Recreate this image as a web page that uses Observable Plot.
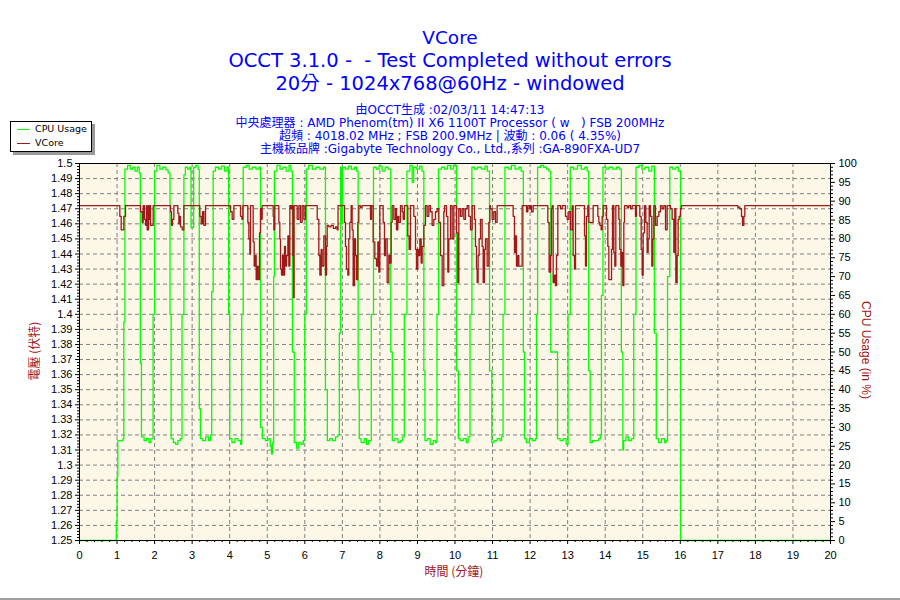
<!DOCTYPE html>
<html><head><meta charset="utf-8">
<script src="https://cdn.jsdelivr.net/npm/d3@7"></script>
<script src="https://cdn.jsdelivr.net/npm/@observablehq/plot@0.6"></script>
<style>
html,body{margin:0;padding:0;background:#fff;}
#wrap{position:relative;width:900px;height:600px;overflow:hidden;background:#fff;font-family:"DejaVu Sans","Noto Sans CJK TC",sans-serif;}
#wrap svg{position:absolute;left:0;top:0;}
.t{position:absolute;left:0;width:900px;text-align:center;color:#0000ff;white-space:pre;line-height:1;}
.ax{position:absolute;color:#a31414;white-space:pre;line-height:1;font-size:12px;}
#legend{position:absolute;left:10px;top:121px;width:80px;height:29px;border:1px solid #000;background:#fff;box-shadow:3px 3px 0 #9a9a9a;font-size:9.5px;}
#legend .row{position:absolute;left:0;height:12px;line-height:12px;}
#legend .sw{position:absolute;left:6px;width:13px;top:6px;height:0;border-top:1.3px solid;}
#legend .lb{position:absolute;left:24px;top:0;white-space:pre;}
#bottomline{position:absolute;left:0;top:598px;width:900px;height:2px;background:#a0a0a0;}
</style>
</head><body>
<div id="wrap"></div>
<script>
// ---------- data ----------
const timeTicks = [0,1,2,3,4,5,6,7,8,9,10,11,12,13,14,15,16,17,18,19,20];
const voltTicks = [1.25,1.26,1.27,1.28,1.29,1.3,1.31,1.32,1.33,1.34,1.35,1.36,1.37,1.38,1.39,1.4,1.41,1.42,1.43,1.44,1.45,1.46,1.47,1.48,1.49,1.5];
const cpuTicks = [0,5,10,15,20,25,30,35,40,45,50,55,60,65,70,75,80,85,90,95,100];

// CPU usage (%) change points [minute, %]
const cpuUsage = [
[0,0],[0.97,0],[0.98,5],[1.0,17],[1.02,26.5],[1.16,27],[1.18,58],[1.21,98.5],
[1.28,99.5],[1.35,98.5],[1.42,99],[1.48,98],[1.54,99],[1.59,97.5],
[1.62,47],[1.65,27.5],[1.72,26.5],[1.78,27],[1.85,26],[1.9,27],
[1.96,60],[2.0,98],[2.06,99.5],[2.14,98.5],[2.22,99],[2.3,98.3],[2.36,97.5],
[2.41,60],[2.44,27],[2.5,26],[2.56,25.5],[2.62,26.5],[2.68,27],
[2.73,60],[2.78,97],[2.82,99],[2.88,98.5],[2.94,99],[2.97,83],[3.04,99],[3.1,99.5],[3.16,98.5],
[3.19,35],[3.22,27],[3.28,26.5],[3.36,27.5],[3.44,26.5],[3.49,28],
[3.52,66],[3.56,98],[3.62,99],[3.7,98.5],[3.78,99.3],[3.86,98],[3.93,99],
[3.97,60],[4.0,27],[4.06,26],[4.14,27],[4.22,26.5],[4.29,25.5],
[4.32,60],[4.36,99],[4.44,99.5],[4.52,98.5],[4.6,99],[4.7,98.5],[4.78,99],
[4.82,30],[4.87,27],[4.95,26.5],[5.02,27],[5.08,25],[5.11,23],[5.14,26],
[5.17,70],[5.19,98],[5.26,99.5],[5.34,98.5],[5.42,99],[5.5,98],[5.58,99.5],[5.63,98],
[5.67,50],[5.72,26],[5.78,24.5],[5.84,26],[5.9,25.5],[5.96,26.5],
[6.0,60],[6.04,98.5],[6.1,99.5],[6.2,98.5],[6.3,99],[6.4,98.5],[6.5,99],
[6.55,40],[6.6,26.5],[6.66,27],[6.74,26.5],[6.82,27.5],[6.88,28],
[6.92,55],[6.95,99],[6.98,84],[7.0,99],[7.08,98.5],[7.16,99.3],[7.24,98.5],[7.32,99],[7.38,98],
[7.42,40],[7.45,27],[7.5,26],[7.58,27],[7.64,25.5],[7.7,26.5],
[7.77,60],[7.83,99],[7.9,98.5],[7.98,99.3],[8.06,98],[8.14,99],[8.22,98.5],
[8.29,50],[8.33,26.5],[8.4,27],[8.48,26],[8.55,26.5],[8.6,27.5],
[8.65,60],[8.72,98],[8.8,99.5],[8.86,95],[8.9,99],[8.98,98.5],[9.06,99.3],[9.12,98],
[9.17,45],[9.2,26.5],[9.26,27],[9.34,25.5],[9.42,26.5],[9.48,26],
[9.52,60],[9.56,98.5],[9.64,99],[9.72,98.5],[9.8,99.5],[9.88,98.5],[9.96,99.5],
[10.04,45],[10.09,27],[10.14,26.5],[10.22,27],[10.3,26],[10.35,27.5],
[10.4,60],[10.45,99],[10.52,98.5],[10.6,99],[10.7,98.5],[10.8,99.3],[10.86,98],
[10.92,45],[10.98,26],[11.04,26.5],[11.12,27],[11.2,26.5],[11.24,27.5],
[11.28,60],[11.33,99],[11.42,98.5],[11.5,99.5],[11.6,98.5],[11.7,99],[11.76,98],
[11.82,50],[11.85,27],[11.9,26],[11.98,27],[12.06,26.5],[12.14,27],
[12.17,60],[12.2,99],[12.28,99.5],[12.36,99],[12.44,98.5],[12.5,98],
[12.55,50],[12.73,27],[12.8,26.5],[12.88,27],[12.96,25.5],
[13.01,60],[13.07,99],[13.16,98.5],[13.26,99.5],[13.36,98.5],[13.46,99],[13.52,98],
[13.56,45],[13.6,26],[13.66,26.5],[13.74,26.5],[13.82,27],[13.87,28],
[13.9,65],[13.94,99],[14.02,98.5],[14.1,99],[14.2,98.5],[14.3,99],[14.38,98.5],
[14.43,50],[14.47,24],[14.49,26.5],[14.55,27.5],[14.62,26.5],[14.7,27],
[14.76,60],[14.82,99],[14.9,99.5],[14.98,98.5],[15.06,99],[15.16,98],[15.24,99.3],
[15.31,55],[15.36,27],[15.42,26],[15.5,27],[15.58,26],[15.62,26.5],
[15.66,70],[15.72,99],[15.8,98.5],[15.88,99],[15.95,98],
[16.01,0],[20,0]
];

// VCore (V) change points [minute, volts]
const vcore = [
[0,1.472],
[1.074,1.465],[1.110,1.456],[1.181,1.465],[1.225,1.472],
[1.625,1.468],[1.669,1.461],[1.696,1.472],[1.731,1.463],[1.760,1.459],[1.785,1.472],[1.802,1.456],[1.838,1.472],[1.856,1.463],[1.873,1.472],[1.891,1.459],[1.962,1.472],
[2.424,1.468],[2.450,1.459],[2.477,1.463],[2.513,1.472],[2.619,1.467],[2.646,1.460],[2.672,1.465],[2.690,1.458],[2.735,1.456],[2.779,1.472],
[3.205,1.465],[3.240,1.460],[3.276,1.468],[3.311,1.459],[3.356,1.472],
[4.022,1.468],[4.066,1.463],[4.111,1.472],[4.288,1.465],[4.324,1.463],[4.350,1.472],
[4.483,1.461],[4.510,1.450],[4.537,1.440],[4.554,1.472],[4.625,1.448],[4.652,1.432],[4.687,1.439],[4.705,1.423],[4.732,1.432],[4.758,1.423],[4.794,1.454],[4.821,1.470],[4.847,1.463],[4.865,1.472],
[5.158,1.465],[5.176,1.456],[5.202,1.472],[5.309,1.461],[5.335,1.450],[5.353,1.430],[5.380,1.426],[5.406,1.439],[5.433,1.426],[5.460,1.445],[5.486,1.432],[5.513,1.439],[5.549,1.452],[5.575,1.432],[5.602,1.472],[5.637,1.470],[5.664,1.472],[5.682,1.439],[5.700,1.411],[5.716,1.472],
[5.797,1.463],[5.842,1.472],[5.886,1.461],[5.930,1.472],[5.975,1.463],[6.019,1.472],
[6.330,1.463],[6.374,1.439],[6.401,1.426],[6.436,1.443],[6.463,1.432],[6.507,1.452],[6.552,1.426],[6.578,1.445],[6.596,1.459],[6.640,1.458],[6.700,1.459],[6.760,1.457],[6.820,1.458],[6.860,1.456],[6.885,1.472],
[7.057,1.461],[7.083,1.445],[7.110,1.430],[7.146,1.426],[7.172,1.450],[7.199,1.461],[7.234,1.472],[7.261,1.456],[7.288,1.419],[7.323,1.450],[7.350,1.439],[7.376,1.423],[7.412,1.461],[7.439,1.472],[7.483,1.471],[7.527,1.472],
[7.749,1.463],[7.776,1.472],[7.820,1.448],[7.865,1.437],[7.909,1.432],[7.945,1.448],[7.971,1.428],[7.998,1.472],[8.087,1.461],[8.122,1.439],[8.149,1.450],[8.193,1.421],[8.237,1.439],[8.264,1.434],[8.300,1.461],[8.326,1.472],
[8.371,1.463],[8.415,1.470],[8.442,1.456],[8.477,1.465],[8.504,1.461],[8.548,1.472],[8.593,1.468],[8.619,1.463],[8.655,1.472],
[8.743,1.452],[8.779,1.443],[8.814,1.472],[8.903,1.465],[8.948,1.443],[8.974,1.430],[9.010,1.443],[9.036,1.439],[9.063,1.450],[9.099,1.434],[9.125,1.445],[9.170,1.459],[9.214,1.472],[9.258,1.465],[9.303,1.472],
[9.347,1.468],[9.391,1.459],[9.436,1.463],[9.480,1.468],[9.525,1.470],[9.569,1.461],[9.613,1.439],[9.658,1.419],[9.702,1.468],[9.720,1.472],[9.773,1.465],[9.809,1.428],[9.835,1.450],[9.880,1.472],[9.924,1.450],[9.968,1.472],[10.040,1.454],[10.075,1.421],[10.102,1.470],
[10.146,1.465],[10.190,1.470],[10.235,1.463],[10.279,1.470],[10.324,1.472],[10.368,1.465],[10.412,1.456],[10.457,1.472],
[10.519,1.463],[10.545,1.445],[10.572,1.430],[10.590,1.421],[10.616,1.439],[10.643,1.450],[10.679,1.463],[10.723,1.445],[10.750,1.421],[10.785,1.443],[10.812,1.450],[10.856,1.432],[10.901,1.461],[10.927,1.472],[10.945,1.470],[10.989,1.463],[11.034,1.468],[11.078,1.461],[11.122,1.472],
[11.549,1.465],[11.584,1.441],[11.611,1.452],[11.637,1.432],[11.673,1.439],[11.700,1.432],[11.788,1.472],
[11.904,1.468],[11.939,1.472],[11.984,1.470],[12.010,1.472],[12.037,1.468],[12.081,1.472],
[12.472,1.461],[12.507,1.428],[12.543,1.439],[12.569,1.470],[12.587,1.472],[12.614,1.421],[12.649,1.426],[12.676,1.419],[12.703,1.439],[12.738,1.472],[12.809,1.470],[12.854,1.472],
[12.942,1.465],[12.987,1.463],[13.031,1.468],[13.075,1.456],[13.120,1.472],[13.146,1.439],[13.182,1.430],[13.209,1.472],
[13.449,1.452],[13.475,1.432],[13.502,1.465],[13.537,1.472],[13.564,1.461],[13.679,1.472],[13.804,1.465],[13.830,1.461],[13.857,1.459],[13.892,1.456],[13.919,1.465],[13.946,1.472],
[14.034,1.463],[14.070,1.445],[14.097,1.423],[14.168,1.443],[14.194,1.472],[14.230,1.441],[14.256,1.432],[14.283,1.472],[14.363,1.463],[14.389,1.443],[14.416,1.432],[14.443,1.441],[14.469,1.419],[14.496,1.461],[14.514,1.472],[14.585,1.471],[14.629,1.472],[14.674,1.470],[14.718,1.472],[14.807,1.465],[14.833,1.472],
[14.922,1.465],[14.958,1.443],[14.984,1.426],[15.011,1.454],[15.046,1.472],[15.082,1.461],[15.117,1.441],[15.144,1.450],[15.171,1.472],[15.206,1.465],[15.242,1.432],[15.268,1.450],[15.295,1.472],[15.339,1.459],[15.384,1.465],[15.428,1.468],[15.472,1.472],[15.517,1.470],[15.561,1.472],[15.606,1.456],[15.650,1.472],[15.739,1.470],[15.783,1.463],[15.828,1.441],[15.854,1.470],[15.881,1.421],[15.916,1.439],[15.943,1.463],[15.970,1.465],[16.005,1.470],[16.032,1.472],
[17.532,1.471],[17.585,1.470],[17.630,1.465],[17.656,1.459],[17.692,1.465],[17.718,1.472],[20,1.472]
];

// ---------- scales helpers ----------
const V0 = voltTicks[0], V1 = voltTicks[voltTicks.length - 1];
const cpuToV = p => V0 + p / 100 * (V1 - V0);
const vToCpu = v => String(Math.round((v - V0) / (V1 - V0) * 100));
const minorT = d3.range(0, 101).filter(i => i % 5).map(i => i * 0.2);
const minorV = d3.range(625, 751).filter(i => i % 5).map(i => i / 500);
const minorC = d3.range(0, 101).filter(i => i % 5).map(cpuToV);
const grid = {stroke: "#808080", strokeDasharray: "4,3", strokeWidth: 1};
const tickFont = {fontSize: 11, fill: "#000"};

const chart = Plot.plot({
  width: 900, height: 600,
  marginLeft: 79, marginRight: 70, marginTop: 163, marginBottom: 60,
  x: {domain: [0, 20]},
  y: {domain: [V0, V1]},
  style: {background: "transparent", fontFamily: "'Liberation Sans', Arial, sans-serif", fontSize: "11px", color: "#000"},
  marks: [
    Plot.frame({fill: "#fdf7e8"}),
    Plot.ruleX(timeTicks.slice(1, -1), grid),
    Plot.ruleY(voltTicks.slice(1, -1), grid),
    Plot.line(cpuUsage, {x: d => d[0], y: d => cpuToV(d[1]), curve: "step-after", stroke: "#00ff00", strokeWidth: 1.3}),
    Plot.line(vcore, {x: d => d[0], y: d => d[1], curve: "step-after", stroke: "#a01818", strokeWidth: 1.3}),
    Plot.frame({stroke: "#000"}),
    Plot.axisY({anchor: "left", ticks: voltTicks, tickSize: 4, tickPadding: 3, tickFormat: d => String(+d.toFixed(2)), label: null, ...tickFont}),
    Plot.axisY({anchor: "left", ticks: minorV, tickSize: 2, tickFormat: () => "", label: null}),
    Plot.axisY({anchor: "right", ticks: cpuTicks.map(cpuToV), tickSize: 4, tickPadding: 4, tickFormat: vToCpu, label: null, ...tickFont}),
    Plot.axisY({anchor: "right", ticks: minorC, tickSize: 2, tickFormat: () => "", label: null}),
    Plot.axisX({anchor: "bottom", ticks: timeTicks, tickSize: 4, tickPadding: 7, tickFormat: d => String(d), label: null, ...tickFont}),
    Plot.axisX({anchor: "bottom", ticks: minorT, tickSize: 2, tickFormat: () => "", label: null})
  ]
});
const wrap = document.getElementById("wrap");
wrap.appendChild(chart);

// ---------- texts ----------
const titles = [
  ["VCore", 29, 18.5],
  ["OCCT 3.1.0 -  - Test Completed without errors", 51, 19.5],
  ["20分 - 1024x768@60Hz - windowed", 74, 19.5],
  ["由OCCT生成 :02/03/11 14:47:13", 104, 12],
  ["中央處理器 : AMD Phenom(tm) II X6 1100T Processor ( w   ) FSB 200MHz", 117, 12],
  ["超頻 : 4018.02 MHz ; FSB 200.9MHz | 波動 : 0.06 ( 4.35%)", 130, 12],
  ["主機板品牌 :Gigabyte Technology Co., Ltd.,系列 :GA-890FXA-UD7", 142.5, 12]
];
for (const [txt, top, fs] of titles) {
  const d = document.createElement("div");
  d.className = "t";
  d.style.top = top + "px";
  d.style.fontSize = fs + "px";
  d.textContent = txt;
  wrap.appendChild(d);
}
function axTitle(txt, cx, cy, rot, font) {
  const d = document.createElement("div");
  d.className = "ax";
  d.textContent = txt;
  d.style.left = cx + "px";
  d.style.top = cy + "px";
  if (font) d.style.fontFamily = font;
  d.style.transform = "translate(-50%,-50%)" + (rot ? ` rotate(${rot}deg)` : "");
  wrap.appendChild(d);
}
axTitle("電壓 (伏特)", 34, 351, -90, "'Noto Sans CJK TC', sans-serif");
axTitle("CPU Usage (in %)", 866, 350, 90, "'Liberation Sans', Arial, sans-serif");
axTitle("時間 (分鐘)", 454, 571, 0, "'Noto Sans CJK TC', sans-serif");

const legend = document.createElement("div");
legend.id = "legend";
const legendItems = [["CPU Usage", "#00ff00", 1], ["VCore", "#a01818", 15]];
for (const [name, color, top] of legendItems) {
  const r = document.createElement("div");
  r.className = "row";
  r.style.top = top + "px";
  r.innerHTML = `<div class="sw" style="border-color:${color}"></div><div class="lb">${name}</div>`;
  legend.appendChild(r);
}
wrap.appendChild(legend);
const bl = document.createElement("div");
bl.id = "bottomline";
wrap.appendChild(bl);
</script>
</body></html>
